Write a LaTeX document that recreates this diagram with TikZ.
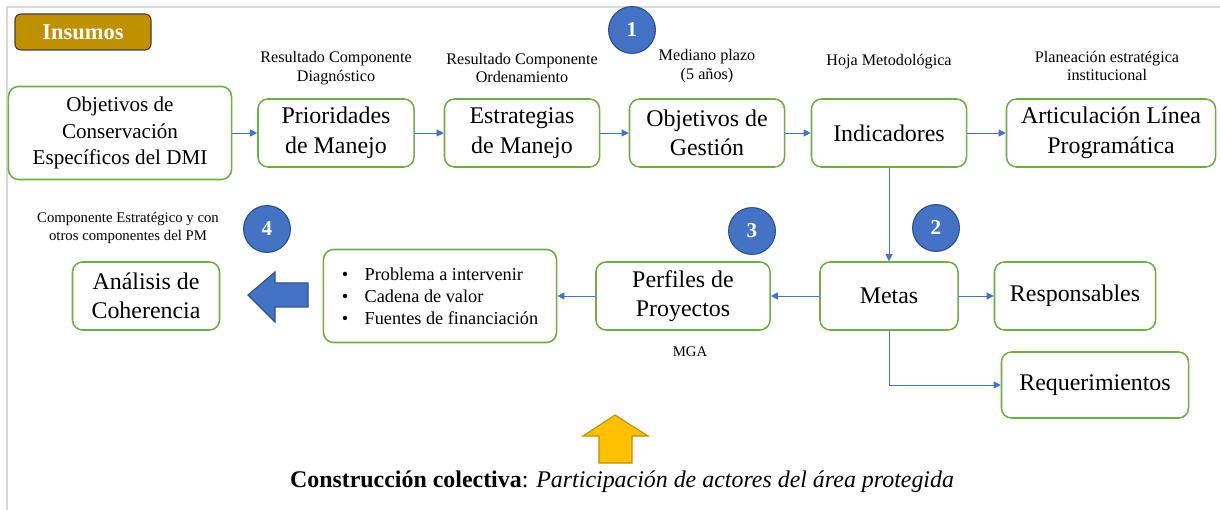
\documentclass[tikz,border=0pt]{standalone}
\usepackage{fontspec}
\setmainfont{Liberation Serif}
\usepackage{tikz}
\usepackage{xcolor}
\usetikzlibrary{arrows.meta}

\definecolor{boxgreen}{HTML}{70AD47}
\definecolor{linkblue}{HTML}{4472C4}
\definecolor{darkblue}{HTML}{2F528F}
\definecolor{gold}{HTML}{BF9000}
\definecolor{amber}{HTML}{FFC000}
\definecolor{framegray}{HTML}{D9D9D9}

\begin{document}
\begin{tikzpicture}[
      x = 0.025cm, y = -0.025cm,
      box/.style = {draw = boxgreen, line width = 1.1pt, rounded corners = 0.25cm, fill = white,
            align = center, inner sep = 0pt, minimum height = 1.7cm, font = \fontsize{17}{21}\selectfont},
      note/.style = {align = center, inner sep = 0pt, font = \fontsize{11.5}{13}\selectfont},
      num/.style = {circle, draw = darkblue, fill = linkblue, line width = 0.8pt, minimum size = 1.17cm,
            inner sep = 0pt, text = white, font = \fontsize{15}{15}\selectfont\bfseries},
      conn/.style = {draw = linkblue, line width = 0.6pt, -{Triangle[length = 5pt, width = 5pt]}}
      ]
      \useasboundingbox (0,0) rectangle (1220,510);
      \draw[framegray, line width = 1.5pt] (7,510) -- (7,7) -- (1220,7);

      \node[draw = black!75, fill = gold, line width = 0.8pt, rounded corners = 0.15cm, minimum width = 3.4cm,
            minimum height = 0.9cm, text = white, font = \fontsize{16}{16}\selectfont\bfseries] (insumos) at (83,32) {Insumos};

      % fila superior
      \node[box, minimum width = 5.575cm, minimum height = 2.325cm, font = \fontsize{15}{18.8}\selectfont] (objcons) at (120,133)
            {Objetivos de\\Conservación\\Específicos del DMI};
      \node[box, minimum width = 3.9cm] (prior) at (336,133) {Prioridades\\de Manejo};
      \node[box, minimum width = 3.875cm] (estrat) at (522,133) {Estrategias\\de Manejo};
      \node[box, minimum width = 3.875cm] (objgest) at (707,133) {Objetivos de\\Gestión};
      \node[box, minimum width = 3.875cm] (indic) at (889,133) {Indicadores};
      \node[box, minimum width = 5.225cm] (artic) at (1111,133) {Articulación Línea\\Programática};

      % fila inferior
      \node[box, minimum width = 3.675cm] (analisis) at (146,296) {Análisis de\\Coherencia};
      \node[box, minimum width = 5.825cm, minimum height = 2.325cm, align = left, font = \fontsize{13}{15.6}\selectfont] (aspectos) at (440,296)
            {\textbullet\hspace{0.9em}Problema a intervenir\\\textbullet\hspace{0.9em}Cadena de valor\\\textbullet\hspace{0.9em}Fuentes de financiación};
      \node[box, minimum width = 4.35cm] (perfiles) at (683,296) {Perfiles de\\Proyectos};
      \node[box, minimum width = 3.45cm] (metas) at (889,296) {Metas};
      \node[box, minimum width = 4.025cm] (resp) at (1075,296) {Responsables};
      \node[box, minimum width = 4.675cm, minimum height = 1.65cm] (req) at (1095,385) {Requerimientos};

      \node[note] (lbdiag) at (336,68) {Resultado Componente\\Diagnóstico};
      \node[note] (lbord) at (522,68) {Resultado Componente\\Ordenamiento};
      \node[note] (lbplazo) at (707,66) {Mediano plazo\\(5 años)};
      \node[note] (lbhoja) at (889,62) {Hoja Metodológica};
      \node[note] (lbplan) at (1107,66) {Planeación estratégica\\institucional};
      \node[note, font = \fontsize{10.5}{13}\selectfont] (lbcomp) at (128,228) {Componente Estratégico y con\\otros componentes del PM};
      \node[note, font = \fontsize{10.5}{12}\selectfont] (lbmga) at (690,352) {MGA};

      \node[num] (n1) at (632,30) {1};
      \node[num] (n2) at (936,228) {2};
      \node[num] (n3) at (752,231) {3};
      \node[num] (n4) at (267,229) {4};

      \foreach \a/\b in {objcons/prior, prior/estrat, estrat/objgest, objgest/indic, indic/artic,
            indic/metas, metas/perfiles, perfiles/aspectos, metas/resp}
            \draw[conn] (\a) -- (\b);
      \draw[conn] (metas.south) |- (req);

      % flechas gruesas
      \draw[fill = linkblue, draw = darkblue, line width = 0.8pt]
            (248,295) -- (275,272) -- (275,283) -- (308,283) -- (308,307) -- (275,307) -- (275,322) -- cycle;
      \draw[fill = amber, draw = gold, line width = 0.8pt]
            (615,415) -- (648,436) -- (632,436) -- (632,463) -- (599,463) -- (599,436) -- (583,436) -- cycle;

      \node[inner sep = 0pt, font = \fontsize{17}{19}\selectfont] (colect) at (622,482)
            {\textbf{Construcción colectiva}: \textit{Participación de actores del área protegida}};
\end{tikzpicture}
\end{document}
